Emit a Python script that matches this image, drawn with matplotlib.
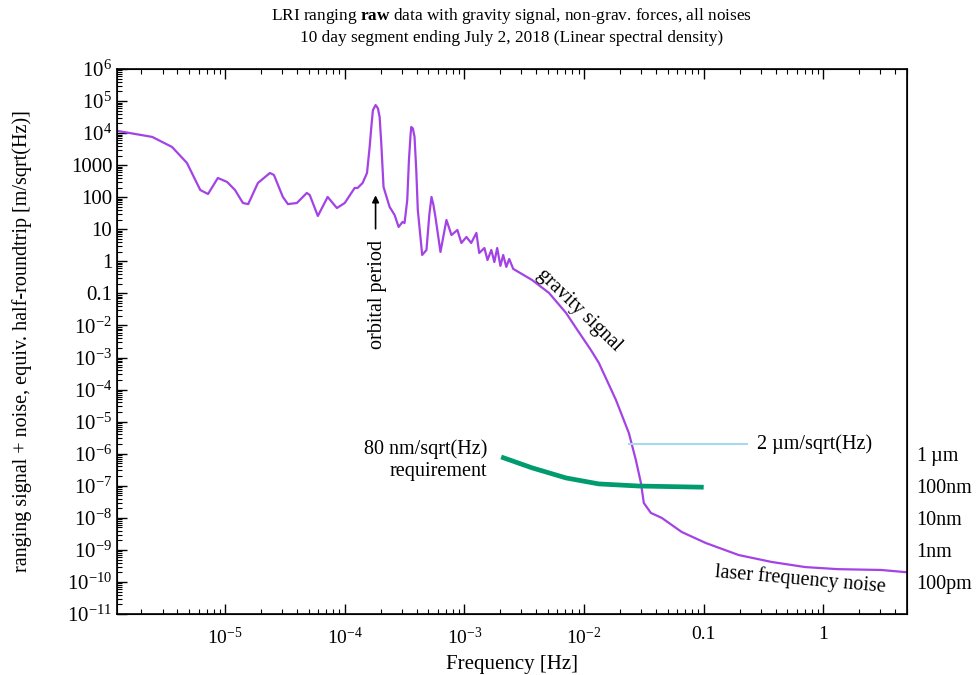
import numpy as np
import matplotlib
matplotlib.use("Agg")
import matplotlib.pyplot as plt
from matplotlib.ticker import LogLocator, NullLocator, NullFormatter

plt.rcParams['font.family'] = ['Liberation Serif', 'DejaVu Serif']
plt.rcParams['mathtext.fontset'] = 'custom'
plt.rcParams['mathtext.rm'] = 'Liberation Serif'
plt.rcParams['mathtext.it'] = 'Liberation Serif:italic'
plt.rcParams['mathtext.bf'] = 'Liberation Serif:bold'

# ranging signal spectrum
freq = [1.26e-6, 2.46e-6, 3.6e-6, 4.8e-6, 6.2e-6, 7.2e-6, 8.7e-6, 1.04e-5, 1.21e-5,
        1.41e-5, 1.56e-5, 1.88e-5, 2.37e-5, 2.56e-5, 3.04e-5, 3.35e-5, 3.98e-5, 4.82e-5,
        5.1e-5, 5.96e-5, 7.2e-5, 8.6e-5, 1.0e-4, 1.21e-4, 1.28e-4, 1.41e-4, 1.535e-4,
        1.616e-4, 1.668e-4, 1.72e-4, 1.81e-4, 1.894e-4, 1.957e-4, 2.02e-4, 2.11e-4,
        2.37e-4, 2.61e-4, 2.82e-4, 3.04e-4, 3.162e-4, 3.33e-4, 3.44e-4, 3.55e-4, 3.6e-4,
        3.71e-4, 3.83e-4, 3.96e-4, 4.08e-4, 4.44e-4, 4.82e-4, 5.1e-4, 5.31e-4, 5.5e-4,
        5.73e-4, 6.31e-4, 7.08e-4, 7.8e-4, 8.74e-4, 9.44e-4, 1.04e-3,
        1.14e-3, 1.26e-3, 1.33e-3, 1.47e-3, 1.56e-3, 1.68e-3, 1.78e-3, 1.88e-3, 2.0e-3,
        2.11e-3, 2.24e-3, 2.37e-3, 2.56e-3, 3.69e-3, 5.1e-3, 7.08e-3, 8.58e-3, 1.14e-2,
        1.33e-2, 1.85e-2, 2.37e-2, 2.71e-2, 2.99e-2, 3.16e-2, 3.62e-2, 4.47e-2, 6.56e-2,
        0.104, 0.196, 0.369, 0.708, 1.33, 3.04, 5.0]
asd = [1.17e4, 7.6e3, 3.7e3, 1170, 168, 126, 398, 299, 168,
       66, 61, 278, 570, 494, 102, 61, 66, 136,
       117, 26, 102, 46, 66, 194, 194, 278, 570,
       3780, 1.55e4, 5.2e4, 7.5e4, 5.9e4, 3.2e4, 4.8e3, 208,
       50, 28, 11.8, 16.9, 15.7, 82, 1450, 9.0e3, 1.55e4,
       1.4e4, 7.7e3, 710, 40, 1.58, 2.26, 30, 102, 60,
       24, 1.96, 19.5, 6.6, 9.5, 3.74, 5.75,
       3.74, 7.7, 1.82, 2.6, 1.1, 2.26, 0.95, 2.6, 0.72,
       1.58, 0.67, 1.18, 0.58, 0.26, 0.103, 0.0245, 8.3e-3, 1.72e-3,
       6.8e-4, 4.7e-5, 4.4e-6, 6.4e-7, 1.22e-7, 2.9e-8, 1.42e-8, 9.9e-9, 3.6e-9,
       1.64e-9, 6.9e-10, 4.2e-10, 2.9e-10, 2.5e-10, 2.36e-10, 2.0e-10]

# 80 nm/sqrt(Hz) requirement
req_freq = [2.03e-3, 3.69e-3, 7.08e-3, 1.33e-2, 2.87e-2, 0.1]
req_asd = [7.9e-7, 3.6e-7, 1.75e-7, 1.14e-7, 9.8e-8, 9.0e-8]

# 2 um/sqrt(Hz) level
lvl_freq = [0.0237, 0.228]
lvl_asd = [2e-6, 2e-6]

xticks = [1e-5, 1e-4, 1e-3, 1e-2, 0.1, 1]
xticklabels = [r'$10^{-5}$', r'$10^{-4}$', r'$10^{-3}$', r'$10^{-2}$', '0.1', '1']
yticks = [1e6, 1e5, 1e4, 1e3, 1e2, 1e1, 1, 0.1, 1e-2, 1e-3, 1e-4, 1e-5, 1e-6,
          1e-7, 1e-8, 1e-9, 1e-10, 1e-11]
yticklabels = [r'$10^{6}$', r'$10^{5}$', r'$10^{4}$', '1000', '100', '10', '1', '0.1',
               r'$10^{-2}$', r'$10^{-3}$', r'$10^{-4}$', r'$10^{-5}$', r'$10^{-6}$',
               r'$10^{-7}$', r'$10^{-8}$', r'$10^{-9}$', r'$10^{-10}$', r'$10^{-11}$']
rticks = [1e-6, 1e-7, 1e-8, 1e-9, 1e-10]
rticklabels = ['1\u2009\u00b5m', '100nm', '10nm', '1nm', '100pm']

fs = 14.5

fig = plt.figure(figsize=(9.77, 6.75), dpi=100)
ax = fig.add_axes([0.1198, 0.0904, 0.8085, 0.8074])

ax.plot(freq, asd, color='#a343e6', lw=1.6)
ax.plot(req_freq, req_asd, color='#009b6e', lw=3.4, solid_capstyle='butt')
ax.plot(lvl_freq, lvl_asd, color='#a6d8f0', lw=1.5)

ax.set_xscale('log')
ax.set_yscale('log')
ax.set_xlim(1.25e-6, 5.0)
ax.set_ylim(1e-11, 1e6)

ax.set_xticks(xticks, xticklabels)
ax.set_yticks(yticks, yticklabels)
ax.xaxis.set_minor_locator(LogLocator(base=10, subs=np.arange(2, 10), numticks=100))
ax.yaxis.set_minor_locator(LogLocator(base=10, subs=np.arange(2, 10), numticks=100))
ax.xaxis.set_minor_formatter(NullFormatter())
ax.yaxis.set_minor_formatter(NullFormatter())
ax.tick_params(which='both', direction='in', top=True, right=True)
ax.tick_params(axis='x', labelsize=14)
ax.tick_params(axis='y', labelsize=15)
ax.tick_params(which='major', length=7, width=1)
ax.tick_params(which='minor', length=3.5, width=0.8)
ax.tick_params(axis='x', which='major', pad=9)
for s in ax.spines.values():
    s.set_linewidth(1.2)

ax2 = ax.twinx()
ax2.set_yscale('log')
ax2.set_ylim(ax.get_ylim())
ax2.set_yticks(rticks, rticklabels)
ax2.yaxis.set_minor_locator(NullLocator())
ax2.tick_params(length=0, pad=7, labelsize=fs)

ax.set_xlabel('Frequency [Hz]', fontsize=15, labelpad=5)
ax.set_ylabel('ranging signal + noise, equiv. half-roundtrip [m/sqrt(Hz)]', fontsize=fs)
ax.yaxis.set_label_coords(-0.108, 0.5)

fig.text(0.524, 0.976, r'LRI ranging $\mathbf{raw}$ data with gravity signal, non-grav. forces, all noises',
         ha='center', va='center', fontsize=12.4)
fig.text(0.524, 0.944, '10 day segment ending July 2, 2018 (Linear spectral density)',
         ha='center', va='center', fontsize=12.4)

ax.annotate('', xy=(1.81e-4, 140), xytext=(1.81e-4, 8.5),
            arrowprops=dict(arrowstyle='-|>', color='black', lw=1.2, mutation_scale=10))
ax.text(1.88e-4, 4.6, 'orbital period', rotation=90, ha='center', va='top', fontsize=fs)
ax.text(9.1e-3, 0.030, 'gravity signal', rotation=-44, ha='center', va='center',
        fontsize=fs, rotation_mode='anchor')
ax.text(0.643, 1.15e-10, 'laser frequency noise', rotation=-5, ha='center', va='center',
        fontsize=fs, rotation_mode='anchor')
ax.text(0.277, 2e-6, '2 \u00b5m/sqrt(Hz)', ha='left', va='center', fontsize=fs)
ax.text(1.55e-3, 6.4e-7, '80 nm/sqrt(Hz)\nrequirement', ha='right', va='center',
        multialignment='right', fontsize=fs, linespacing=1.25)

fig.savefig('out.png', dpi=100)
